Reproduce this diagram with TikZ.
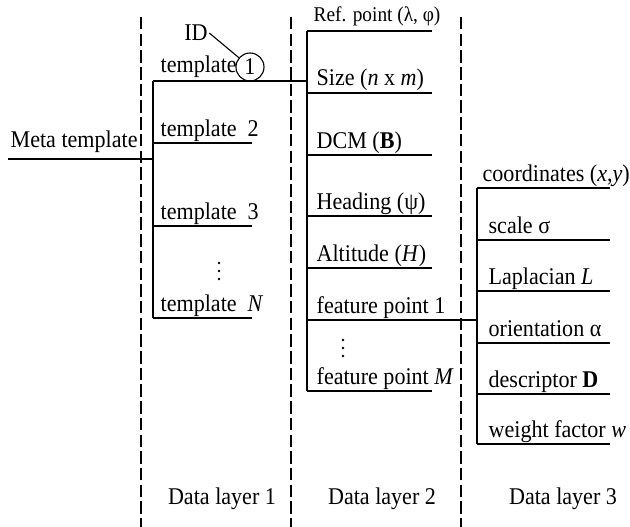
\documentclass[tikz,border=0pt]{standalone}
\usepackage{fontspec}
\setmainfont{Liberation Serif}[FakeStretch=0.92]
\usetikzlibrary{positioning}
\tikzset{every node/.append style={font=\fontsize{24}{28}\selectfont}}
\tikzset{
  layer/.style={dash pattern=on 12.5pt off 4.2pt, line width=1.2pt},
  lbl/.style={anchor=base west, inner sep=0pt},
  dotmark/.style={radius=1.3pt}
}

\begin{document}
\begin{tikzpicture}[x=1pt, y=-1pt, line width=1.3pt]
    \useasboundingbox (0,0) rectangle (630,527);

    % dashed borders between the layers
    \foreach \x [count=\i] in {141, 291, 461} {
      \coordinate (top\i) at (\x,17);
      \coordinate (bot\i) at (\x,527);
      \draw[layer] (top\i) -- (bot\i);
    }

    % spines
    \coordinate (sp1t) at (153,81);  \coordinate (sp1b) at (153,318);
    \coordinate (sp2t) at (307,31);  \coordinate (sp2b) at (307,391);
    \coordinate (sp3t) at (477,188); \coordinate (sp3b) at (477,444);
    \draw (sp1t) -- (sp1b);
    \draw (sp2t) -- (sp2b);
    \draw (sp3t) -- (sp3b);

    % meta template
    \coordinate (meta0) at (8,159);
    \coordinate (meta1) at (153,159);
    \draw (meta0) -- (meta1);
    \node[lbl] (meta) at (10,147) {Meta template};

    % data layer 1
    \coordinate (join2) at (307,81);
    \draw (sp1t) -- (join2);
    \node[lbl] (tmpl1) at (160,73) {template};
    \node[draw, circle, minimum size=28pt, inner sep=0pt, line width=1.1pt] (id1) at (250,67) {1};
    \node[inner sep=1pt] (idtag) at (196,33) {ID};
    \draw[line width=1.1pt] (idtag.east) -- (id1);
    \foreach \y/\txt [count=\i from 2] in {143/{template~~2}, 226/{template~~3}, 318/{template~~\textit{N}}} {
      \coordinate (l1a\i) at (153,\y);
      \coordinate (l1b\i) at (252,\y);
      \draw (l1a\i) -- (l1b\i);
      \node[lbl] (tmpl\i) at ([xshift=7pt, yshift=7pt]l1a\i) {\txt};
    }
    \coordinate (dots1) at (219,271);
    \foreach \d in {-8,0,8} \fill[dotmark] ([yshift=\d pt]dots1) circle;

    % data layer 2
    \coordinate (l2b1) at (432,31);
    \draw (sp2t) -- (l2b1);
    \node[lbl, font=\fontsize{21}{25}\selectfont] (ref) at (313,22) {Ref. point (λ, φ)};
    \foreach \y/\txt [count=\i from 2] in {93/{Size (\textit{n} x \textit{m})}, 155/{DCM (\textbf{B})},
        216/{Heading (ψ)}, 268/{Altitude (\textit{H})}, 320/{feature point 1}, 391/{feature point \textit{M}}} {
      \coordinate (l2a\i) at (307,\y);
      \coordinate (l2b\i) at (432,\y);
      \draw (l2a\i) -- (l2b\i);
      \node[lbl] (feat\i) at ([xshift=9pt, yshift=7pt]l2a\i) {\txt};
    }
    \coordinate (join3) at (477,320);
    \draw (l2b6) -- (join3);
    \coordinate (dots2) at (343,348);
    \foreach \d in {-8,0,8} \fill[dotmark] ([yshift=\d pt]dots2) circle;

    % data layer 3
    \coordinate (l3b1) at (610,188);
    \draw (sp3t) -- (l3b1);
    \node[lbl] (coord) at (482,181) {coordinates (\textit{x},\textit{y})};
    \foreach \y/\txt [count=\i from 2] in {240/{scale σ}, 291/{Laplacian \textit{L}}, 343/{orientation α},
        394/{descriptor \textbf{D}}, 444/{weight factor \textit{w}}} {
      \coordinate (l3a\i) at (477,\y);
      \coordinate (l3b\i) at (610,\y);
      \draw (l3a\i) -- (l3b\i);
      \node[lbl] (attr\i) at ([xshift=11pt, yshift=7pt]l3a\i) {\txt};
    }

    % layer titles
    \node[anchor=base, inner sep=0pt] (title1) at (222,504) {Data layer 1};
    \node[anchor=base, inner sep=0pt] (title2) at (382,504) {Data layer 2};
    \node[anchor=base, inner sep=0pt] (title3) at (563,504) {Data layer 3};

  \end{tikzpicture}
\end{document}
